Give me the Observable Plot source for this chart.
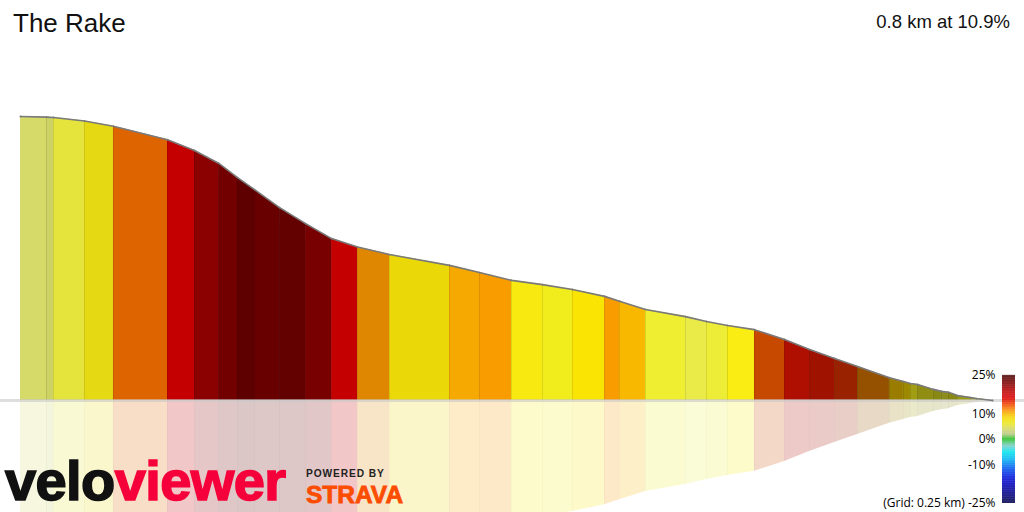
<!DOCTYPE html>
<html><head><meta charset="utf-8">
<script src="https://cdn.jsdelivr.net/npm/d3@7"></script>
<script src="https://cdn.jsdelivr.net/npm/@observablehq/plot@0.6"></script>
<style>
html,body{margin:0;padding:0;background:#fff;overflow:hidden;}
#wrap{position:relative;width:1024px;height:512px;}
#wrap > svg{position:absolute;}
</style></head><body><div id="wrap"></div>
<script>
const title = "The Rake";
const subtitle = "0.8 km at 10.9%";
// profile vertices: distance (m) and elevation above the lowest point (m)
const distance = [0,21.4,27.2,52.7,76.5,121.0,143.2,163.0,178.6,192.6,213.2,234.6,256.0,277.4,303.7,353.1,377.8,404.1,429.6,454.3,480.7,493.0,514.4,547.3,564.6,581.9,604.1,628.8,649.4,670.0,688.9,715.2,726.7,732.5,738.3,751.4,758.0,763.8,771.2,781.9,786.8,800];
const elevation = [87.0,86.8,86.7,85.6,84.0,79.9,76.6,72.7,68.3,64.6,59.1,54.2,49.6,47.0,44.7,41.4,39.2,36.8,35.5,34.0,31.9,30.4,27.9,25.7,24.2,23.0,21.7,18.7,15.6,12.9,10.4,7.0,5.8,5.2,4.9,3.4,2.8,2.5,1.5,0.9,0.6,0];
// per segment gradient (%) and shading factor
const grade = [3.8,3.8,5.2,6.8,12.3,18,21.2,22.5,23.7,23.1,23.4,22.1,18,11,7.5,10.3,10.8,7,6.3,7.8,10.8,9.8,5.6,4.9,5.4,6.8,13,15.3,15.1,14.2,11.5,9,8.3,6.2,6.2,6,5.5,6,6,5,4.5];
const shade = [1.02,0.98,1.02,0.96,0.9,1,1,1,1,1,1,1,1,0.9,0.97,0.99,1,1.04,1.03,1.03,1,1,1.05,1.06,1.05,1.05,0.82,0.77,0.7,0.65,0.6,0.62,0.64,0.69,0.62,0.59,0.62,0.59,0.67,0.71,0.82];
// colour ramp (legend)
const legendStops = [-25,-21,-17,-14,-11,-8,-5,-2.5,0,2,4,6,8,10,12,14,16,19,22,25];
const legendColors = ["#000048","#000088","#0000c0","#0020e0","#0060f0","#00b0f0","#00e4ee","#78ccc4","#20c020","#b8c880","#d4d864","#e8e620","#f4dc00","#f8b400","#f87800","#ee3a00","#dc0000","#b80000","#7a0000","#480000"];
const legendTicks = [25,10,0,-10,-25];
const gridLabel = "(Grid: 0.25 km)";

const colorOpts = {type:"linear", domain: legendStops, range: legendColors, interpolate:"rgb"};
const ramp = Plot.scale({color: colorOpts});
const segColor = grade.map((g,i)=>{
  const c = d3.rgb(ramp.apply(g)); const s = shade[i];
  return d3.rgb(Math.min(255,c.r*s),Math.min(255,c.g*s),Math.min(255,c.b*s)).formatHex();
});
const verts = distance.map((d,i)=>({d, e: elevation[i]}));
const rows = grade.flatMap((g,i)=>[
  {seg:i,d:distance[i],e:elevation[i],col:segColor[i]},
  {seg:i,d:distance[i+1],e:elevation[i+1],col:segColor[i]}
]);

const main = Plot.plot({
  width:1024, height:512, margin:0,
  x:{domain:[0,800], range:[20,992], axis:null},
  y:{domain:[0,87], range:[400,116], axis:null},
  color:{type:"identity"},
  marks:[
    Plot.areaY(rows,{x:"d",y1:()=>0,y2:d=>-d.e,z:"seg",fill:"col",fillOpacity:0.22}),
    Plot.areaY(rows,{x:"d",y1:()=>0,y2:"e",z:"seg",fill:"col"}),
    Plot.ruleX(verts.slice(1,-1),{x:"d",y1:()=>0,y2:"e",stroke:"#000",strokeOpacity:0.1}),
    Plot.ruleX(verts.slice(1,-1),{x:"d",y1:()=>0,y2:d=>-d.e,stroke:"#000",strokeOpacity:0.025}),
    Plot.ruleY([0],{stroke:"#c8c8c8",strokeOpacity:0.6,strokeWidth:3}),
    Plot.line(verts,{x:"d",y:"e",stroke:"#7a7a7a",strokeWidth:1.6}),
    Plot.dot(verts,{x:"d",y:"e",r:0.9,fill:"#7a7a7a"})
  ]
});
document.getElementById("wrap").appendChild(main);
main.style.left="0px"; main.style.top="0px";

const s = d3.select(main);
const font = "Liberation Sans, Arial, sans-serif";
s.append("text").attr("x",13).attr("y",32).attr("text-anchor","start").attr("font-family",font)
  .attr("font-size",26).attr("fill","#111").text(title);
s.append("text").attr("x",1010).attr("y",28).attr("text-anchor","end").attr("font-family",font)
  .attr("font-size",18.5).attr("fill","#111").text(subtitle);
const logo = s.append("text").attr("x",5).attr("y",500).attr("text-anchor","start").attr("font-family",font)
  .attr("font-size",56).attr("font-weight","bold").attr("letter-spacing","-0.6").attr("stroke-width",1.6);
logo.append("tspan").attr("fill","#111").attr("stroke","#111").text("velo");
logo.append("tspan").attr("fill","#f5003a").attr("stroke","#f5003a").text("viewer");
s.append("text").attr("x",306).attr("y",476.5).attr("text-anchor","start").attr("font-family",font)
  .attr("font-size",10.2).attr("font-weight","bold").attr("letter-spacing","0.9").attr("fill","#222").text("POWERED BY");
s.append("text").attr("x",306).attr("y",503).attr("text-anchor","start").attr("font-family",font)
  .attr("font-size",24.5).attr("font-weight","bold").attr("fill","#fc4c02").attr("stroke","#fc4c02").attr("stroke-width",0.8).text("STRAVA");

const legendData = d3.range(-25, 25, 0.25);
const legend = Plot.plot({
  width:154, height:152, marginLeft:132, marginRight:9, marginTop:15, marginBottom:9,
  x:{domain:[0,1], axis:null},
  y:{domain:[-25,25], ticks: legendTicks, tickSize:0, tickPadding:7, label:null,
     tickFormat: d => d === -25 ? gridLabel + " " + d + "%" : d + "%"},
  color: colorOpts,
  style:{background:"transparent", fontFamily:"'Open Sans', sans-serif", fontSize:"12px", color:"#000"},
  marks:[
    Plot.rect(legendData,{x1:()=>0,x2:()=>1,y1:d=>d,y2:d=>d+0.3,fill:d=>d+0.125})
  ]
});
d3.select(legend).selectAll("text").attr("font-size",12).style("font-size","12px").attr("fill","#000");
document.getElementById("wrap").appendChild(legend);
legend.style.left="870px"; legend.style.top="360px";
</script>
</body></html>
